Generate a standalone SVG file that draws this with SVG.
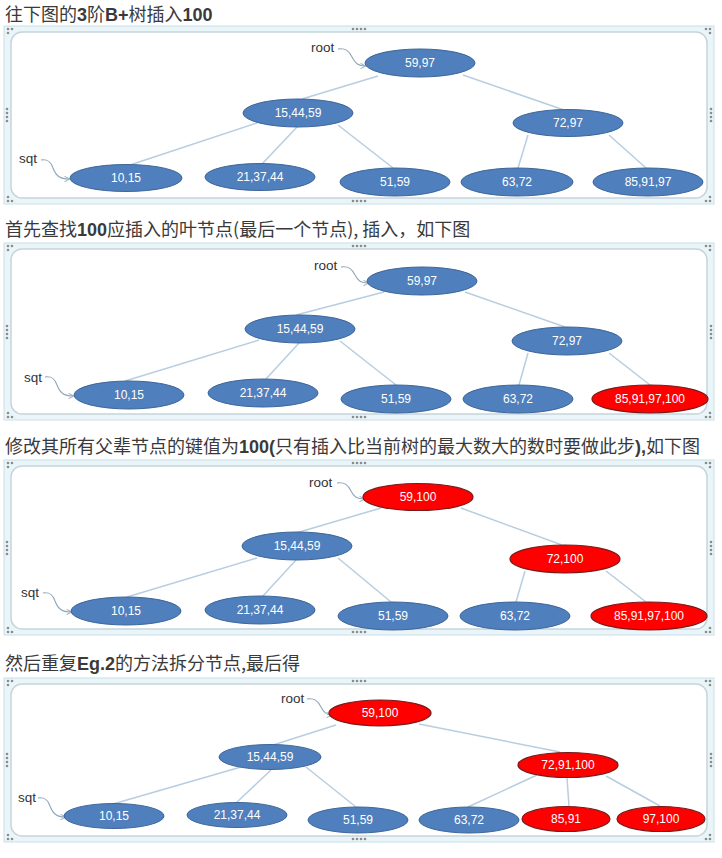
<svg xmlns="http://www.w3.org/2000/svg" width="722" height="858" viewBox="0 0 722 858">
<style>
.h{font-family:"Noto Sans CJK SC","Liberation Sans",sans-serif;font-size:18px;fill:#3a3a3a}
.b{font-family:"Liberation Sans",sans-serif;font-weight:bold}
.outer{fill:#e9f5f9;stroke:#c8dfe8;stroke-width:1}
.inner{fill:#fff;stroke:#c6d5dc;stroke-width:1.5}
.dot{fill:#8c8c8c}
.e{stroke:#b8cde0;stroke-width:1.5;fill:none}
.lk{stroke:#8fa6b8;stroke-width:1.1;fill:none}
.lbl{font-family:"Liberation Sans",sans-serif;font-size:13.5px;fill:#333}
.blue{fill:#4f7fbc;stroke:#3d6699;stroke-width:1}
.red{fill:#ff0000;stroke:#7a1a1a;stroke-width:1.2}
.t{font-family:"Liberation Sans",sans-serif;font-size:12px;fill:#fff;text-anchor:middle;dominant-baseline:central}
</style>
<defs>
<marker id="ar" viewBox="0 0 6 6" refX="5" refY="3" markerWidth="5" markerHeight="5" orient="auto"><path d="M0,0 L6,3 L0,6" fill="none" stroke="#8fa6b8" stroke-width="1"/></marker>
</defs>
<rect width="722" height="858" fill="#fff"/>

<!-- headings -->
<text class="h" x="5" y="21">往下图的<tspan class="b">3</tspan>阶<tspan class="b">B+</tspan>树插入<tspan class="b">100</tspan></text>
<text class="h" x="5" y="236">首先查找<tspan class="b">100</tspan>应插入的叶节点(最后一个节点), 插入，如下图</text>
<text class="h" x="5" y="453">修改其所有父辈节点的键值为<tspan class="b">100(</tspan>只有插入比当前树的最大数大的数时要做此步<tspan class="b">),</tspan>如下图</text>
<text class="h" x="5" y="670">然后重复<tspan class="b">Eg.2</tspan>的方法拆分节点,最后得</text>

<!-- frames -->
<g id="frame1">
<rect class="outer" x="4" y="26" width="710" height="178"/>
<rect class="inner" x="11" y="32" width="696" height="166" rx="11"/>
<g class="dot"><circle cx="8" cy="29" r="1.3"/><circle cx="12" cy="29" r="1.3"/><circle cx="8" cy="33" r="1.3"/><circle cx="706" cy="29" r="1.3"/><circle cx="710" cy="29" r="1.3"/><circle cx="710" cy="33" r="1.3"/><circle cx="8" cy="197" r="1.3"/><circle cx="8" cy="201" r="1.3"/><circle cx="12" cy="201" r="1.3"/><circle cx="706" cy="201" r="1.3"/><circle cx="710" cy="201" r="1.3"/><circle cx="710" cy="197" r="1.3"/><circle cx="353" cy="29" r="1.3"/><circle cx="357" cy="29" r="1.3"/><circle cx="361" cy="29" r="1.3"/><circle cx="365" cy="29" r="1.3"/><circle cx="353" cy="201" r="1.3"/><circle cx="357" cy="201" r="1.3"/><circle cx="361" cy="201" r="1.3"/><circle cx="365" cy="201" r="1.3"/><circle cx="7" cy="109" r="1.3"/><circle cx="7" cy="113" r="1.3"/><circle cx="7" cy="117" r="1.3"/><circle cx="7" cy="121" r="1.3"/><circle cx="711" cy="109" r="1.3"/><circle cx="711" cy="113" r="1.3"/><circle cx="711" cy="117" r="1.3"/><circle cx="711" cy="121" r="1.3"/></g>
</g>
<g id="frame2">
<rect class="outer" x="4" y="243" width="710" height="177"/>
<rect class="inner" x="11" y="249" width="696" height="165" rx="11"/>
<g class="dot"><circle cx="8" cy="246" r="1.3"/><circle cx="12" cy="246" r="1.3"/><circle cx="8" cy="250" r="1.3"/><circle cx="706" cy="246" r="1.3"/><circle cx="710" cy="246" r="1.3"/><circle cx="710" cy="250" r="1.3"/><circle cx="8" cy="413" r="1.3"/><circle cx="8" cy="417" r="1.3"/><circle cx="12" cy="417" r="1.3"/><circle cx="706" cy="417" r="1.3"/><circle cx="710" cy="417" r="1.3"/><circle cx="710" cy="413" r="1.3"/><circle cx="353" cy="246" r="1.3"/><circle cx="357" cy="246" r="1.3"/><circle cx="361" cy="246" r="1.3"/><circle cx="365" cy="246" r="1.3"/><circle cx="353" cy="417" r="1.3"/><circle cx="357" cy="417" r="1.3"/><circle cx="361" cy="417" r="1.3"/><circle cx="365" cy="417" r="1.3"/><circle cx="7" cy="326" r="1.3"/><circle cx="7" cy="330" r="1.3"/><circle cx="7" cy="334" r="1.3"/><circle cx="7" cy="338" r="1.3"/><circle cx="711" cy="326" r="1.3"/><circle cx="711" cy="330" r="1.3"/><circle cx="711" cy="334" r="1.3"/><circle cx="711" cy="338" r="1.3"/></g>
</g>
<g id="frame3">
<rect class="outer" x="4" y="460" width="710" height="175"/>
<rect class="inner" x="11" y="466" width="696" height="163" rx="11"/>
<g class="dot"><circle cx="8" cy="463" r="1.3"/><circle cx="12" cy="463" r="1.3"/><circle cx="8" cy="467" r="1.3"/><circle cx="706" cy="463" r="1.3"/><circle cx="710" cy="463" r="1.3"/><circle cx="710" cy="467" r="1.3"/><circle cx="8" cy="628" r="1.3"/><circle cx="8" cy="632" r="1.3"/><circle cx="12" cy="632" r="1.3"/><circle cx="706" cy="632" r="1.3"/><circle cx="710" cy="632" r="1.3"/><circle cx="710" cy="628" r="1.3"/><circle cx="353" cy="463" r="1.3"/><circle cx="357" cy="463" r="1.3"/><circle cx="361" cy="463" r="1.3"/><circle cx="365" cy="463" r="1.3"/><circle cx="353" cy="632" r="1.3"/><circle cx="357" cy="632" r="1.3"/><circle cx="361" cy="632" r="1.3"/><circle cx="365" cy="632" r="1.3"/><circle cx="7" cy="542" r="1.3"/><circle cx="7" cy="546" r="1.3"/><circle cx="7" cy="550" r="1.3"/><circle cx="7" cy="554" r="1.3"/><circle cx="711" cy="542" r="1.3"/><circle cx="711" cy="546" r="1.3"/><circle cx="711" cy="550" r="1.3"/><circle cx="711" cy="554" r="1.3"/></g>
</g>
<g id="frame4">
<rect class="outer" x="4" y="678" width="710" height="164"/>
<rect class="inner" x="11" y="684" width="696" height="152" rx="11"/>
<g class="dot"><circle cx="8" cy="681" r="1.3"/><circle cx="12" cy="681" r="1.3"/><circle cx="8" cy="685" r="1.3"/><circle cx="706" cy="681" r="1.3"/><circle cx="710" cy="681" r="1.3"/><circle cx="710" cy="685" r="1.3"/><circle cx="8" cy="835" r="1.3"/><circle cx="8" cy="839" r="1.3"/><circle cx="12" cy="839" r="1.3"/><circle cx="706" cy="839" r="1.3"/><circle cx="710" cy="839" r="1.3"/><circle cx="710" cy="835" r="1.3"/><circle cx="353" cy="681" r="1.3"/><circle cx="357" cy="681" r="1.3"/><circle cx="361" cy="681" r="1.3"/><circle cx="365" cy="681" r="1.3"/><circle cx="353" cy="839" r="1.3"/><circle cx="357" cy="839" r="1.3"/><circle cx="361" cy="839" r="1.3"/><circle cx="365" cy="839" r="1.3"/><circle cx="7" cy="754" r="1.3"/><circle cx="7" cy="758" r="1.3"/><circle cx="7" cy="762" r="1.3"/><circle cx="7" cy="766" r="1.3"/><circle cx="711" cy="754" r="1.3"/><circle cx="711" cy="758" r="1.3"/><circle cx="711" cy="762" r="1.3"/><circle cx="711" cy="766" r="1.3"/></g>
</g>

<!-- connectors -->
<g id="connectors">
<g class="e">
<line x1="378" y1="76" x2="302" y2="99"/><line x1="463" y1="75" x2="564" y2="110"/>
<line x1="257" y1="123" x2="130" y2="165"/><line x1="297" y1="127" x2="262" y2="164"/>
<line x1="338" y1="125" x2="393" y2="168"/><line x1="528" y1="135" x2="518" y2="168"/>
<line x1="609" y1="135" x2="646" y2="168"/>

<line x1="384" y1="292" x2="296" y2="315"/><line x1="465" y1="292" x2="565" y2="327"/>
<line x1="259" y1="340" x2="125" y2="381"/><line x1="299" y1="343" x2="266" y2="379"/>
<line x1="340" y1="341" x2="396" y2="385"/><line x1="528" y1="353" x2="519" y2="385"/>
<line x1="609" y1="353" x2="650" y2="385"/>

<line x1="381" y1="508" x2="296" y2="533"/><line x1="461" y1="508" x2="562" y2="545"/>
<line x1="257" y1="558" x2="127" y2="597"/><line x1="296" y1="560" x2="262" y2="597"/>
<line x1="338" y1="558" x2="391" y2="602"/><line x1="525" y1="571" x2="516" y2="602"/>
<line x1="606" y1="571" x2="646" y2="602"/>

<line x1="336" y1="725" x2="273" y2="745"/><line x1="419" y1="724" x2="560" y2="752"/>
<line x1="241" y1="767" x2="113" y2="804"/><line x1="271" y1="770" x2="236" y2="803"/>
<line x1="306" y1="767" x2="356" y2="807"/><line x1="537" y1="775" x2="468" y2="807"/>
<line x1="567" y1="778" x2="569" y2="806"/><line x1="606" y1="776" x2="660" y2="806"/>
</g>
<g class="lk">
<path d="M338,49 C346,48 349,51 352,57 C355,63 358,66 365,66" marker-end="url(#ar)"/>
<path d="M41,160 C48,159 51,162 53,168 C56,176 60,179 69,179" marker-end="url(#ar)"/>
<path d="M341,267 C349,266 352,269 355,275 C358,281 361,283 368,283" marker-end="url(#ar)"/>
<path d="M45,377 C52,376 55,379 57,385 C60,393 64,396 73,396" marker-end="url(#ar)"/>
<path d="M337,483 C345,482 348,485 351,491 C354,497 357,499 364,499" marker-end="url(#ar)"/>
<path d="M43,593 C50,592 53,595 55,601 C58,609 62,612 71,612" marker-end="url(#ar)"/>
<path d="M307,699 C315,698 318,701 321,707 C324,713 327,715 331,715" marker-end="url(#ar)"/>
<path d="M38,798 C45,797 48,800 50,806 C53,814 57,817 65,817" marker-end="url(#ar)"/>
</g>
</g>

<!-- labels -->
<g id="labels" class="lbl">
<text x="311" y="52">root</text><text x="19" y="163">sqt</text>
<text x="314" y="270">root</text><text x="24" y="382">sqt</text>
<text x="309" y="487">root</text><text x="21" y="597">sqt</text>
<text x="281" y="703">root</text><text x="18" y="802">sqt</text>
</g>

<!-- panel 1 nodes -->
<g id="p1-root"><ellipse class="blue" cx="420" cy="63" rx="55" ry="14"/><text class="t" x="420" y="63">59,97</text></g>
<g id="p1-a"><ellipse class="blue" cx="298" cy="113" rx="55" ry="14"/><text class="t" x="298" y="113">15,44,59</text></g>
<g id="p1-b"><ellipse class="blue" cx="568" cy="123" rx="55" ry="13.5"/><text class="t" x="568" y="123">72,97</text></g>
<g id="p1-l1"><ellipse class="blue" cx="126" cy="178" rx="56" ry="13.5"/><text class="t" x="126" y="178">10,15</text></g>
<g id="p1-l2"><ellipse class="blue" cx="260" cy="177" rx="55" ry="13.5"/><text class="t" x="260" y="177">21,37,44</text></g>
<g id="p1-l3"><ellipse class="blue" cx="395" cy="182" rx="55" ry="14"/><text class="t" x="395" y="182">51,59</text></g>
<g id="p1-l4"><ellipse class="blue" cx="517" cy="182" rx="56" ry="14"/><text class="t" x="517" y="182">63,72</text></g>
<g id="p1-l5"><ellipse class="blue" cx="648" cy="182" rx="55" ry="14"/><text class="t" x="648" y="182">85,91,97</text></g>

<!-- panel 2 nodes -->
<g id="p2-root"><ellipse class="blue" cx="422" cy="281" rx="55" ry="14"/><text class="t" x="422" y="281">59,97</text></g>
<g id="p2-a"><ellipse class="blue" cx="300" cy="329" rx="55" ry="14"/><text class="t" x="300" y="329">15,44,59</text></g>
<g id="p2-b"><ellipse class="blue" cx="567" cy="341" rx="55" ry="14"/><text class="t" x="567" y="341">72,97</text></g>
<g id="p2-l1"><ellipse class="blue" cx="129" cy="395" rx="55" ry="14"/><text class="t" x="129" y="395">10,15</text></g>
<g id="p2-l2"><ellipse class="blue" cx="263" cy="393" rx="55" ry="14"/><text class="t" x="263" y="393">21,37,44</text></g>
<g id="p2-l3"><ellipse class="blue" cx="396" cy="399" rx="55" ry="14"/><text class="t" x="396" y="399">51,59</text></g>
<g id="p2-l4"><ellipse class="blue" cx="518" cy="399" rx="55" ry="14"/><text class="t" x="518" y="399">63,72</text></g>
<g id="p2-l5"><ellipse class="red" cx="650" cy="399" rx="58" ry="14"/><text class="t" x="650" y="399">85,91,97,100</text></g>

<!-- panel 3 nodes -->
<g id="p3-root"><ellipse class="red" cx="418" cy="497" rx="55" ry="13.5"/><text class="t" x="418" y="497">59,100</text></g>
<g id="p3-a"><ellipse class="blue" cx="297" cy="546" rx="55" ry="14"/><text class="t" x="297" y="546">15,44,59</text></g>
<g id="p3-b"><ellipse class="red" cx="565" cy="559" rx="55" ry="14"/><text class="t" x="565" y="559">72,100</text></g>
<g id="p3-l1"><ellipse class="blue" cx="126" cy="611" rx="55" ry="14"/><text class="t" x="126" y="611">10,15</text></g>
<g id="p3-l2"><ellipse class="blue" cx="260" cy="610" rx="55" ry="14"/><text class="t" x="260" y="610">21,37,44</text></g>
<g id="p3-l3"><ellipse class="blue" cx="393" cy="616" rx="55" ry="14"/><text class="t" x="393" y="616">51,59</text></g>
<g id="p3-l4"><ellipse class="blue" cx="515" cy="616" rx="55" ry="14"/><text class="t" x="515" y="616">63,72</text></g>
<g id="p3-l5"><ellipse class="red" cx="649" cy="616" rx="58" ry="14"/><text class="t" x="649" y="616">85,91,97,100</text></g>

<!-- panel 4 nodes -->
<g id="p4-root"><ellipse class="red" cx="380" cy="713" rx="51" ry="13"/><text class="t" x="380" y="713">59,100</text></g>
<g id="p4-a"><ellipse class="blue" cx="270" cy="757" rx="51" ry="12.5"/><text class="t" x="270" y="757">15,44,59</text></g>
<g id="p4-b"><ellipse class="red" cx="568" cy="765" rx="50" ry="12.5"/><text class="t" x="568" y="765">72,91,100</text></g>
<g id="p4-l1"><ellipse class="blue" cx="114" cy="816" rx="50" ry="12.5"/><text class="t" x="114" y="816">10,15</text></g>
<g id="p4-l2"><ellipse class="blue" cx="237" cy="815" rx="50" ry="12.5"/><text class="t" x="237" y="815">21,37,44</text></g>
<g id="p4-l3"><ellipse class="blue" cx="358" cy="820" rx="50" ry="13"/><text class="t" x="358" y="820">51,59</text></g>
<g id="p4-l4"><ellipse class="blue" cx="469" cy="820" rx="50" ry="13"/><text class="t" x="469" y="820">63,72</text></g>
<g id="p4-l5"><ellipse class="red" cx="566" cy="819" rx="44" ry="12.5"/><text class="t" x="566" y="819">85,91</text></g>
<g id="p4-l6"><ellipse class="red" cx="661" cy="819" rx="44" ry="12.5"/><text class="t" x="661" y="819">97,100</text></g>
</svg>
